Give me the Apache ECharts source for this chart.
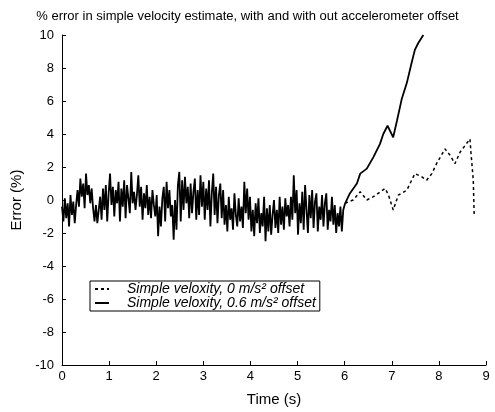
<!DOCTYPE html>
<html>
<head>
<meta charset="utf-8">
<script src="https://cdn.jsdelivr.net/npm/echarts@6/dist/echarts.min.js"></script>
<style>
  html, body { margin: 0; padding: 0; background: #fff; }
  #chart { width: 495px; height: 412px; }
</style>
</head>
<body>
<div id="chart"></div>
<script>
// sample spacing of the noisy part (s)
var dt = 0.03;

// % error, 0 .. 6 s (both estimates overlap here)
var noiseValues = [
  -0.4, -1.3, 0.1, -1.1, -0.2, -1.6, 0.3, -0.9, -0.1, -1.4, -0.3,
  0.6, -0.4, 1.3, 0.2, 1.0, -0.5, 1.6, 0.3, 0.9, -0.2, 0.7,
  -0.5, -1.3, -0.3, -1.4, -0.6,
  0.2, -1.2, 0.7, -0.6, 0.9, -1.3, 0.4, 1.6, -0.3, 0.8, -1.0, 0.6, -0.2,
  1.1, -1.3, 0.7, -0.4, 1.2, -1.1, 0.9, 0.1, -0.8, 1.7,
  -0.2, 0.5, -0.6, 0.3, 1.5, -0.4,
  0.8, -1.2, 0.4, -0.5, 0.9, -0.9, 0.2, -1.1, 0.6, -0.3,
  -1.0, 0.3, -2.2, -0.4, -1.6, 0.1,
  0.8, -1.3, 1.1, -0.5, 0.6, -1.0,
  -0.3, -2.4, 0.0, -1.8,
  0.9, 1.7, -1.3, 1.2, -0.6, 1.4, -0.2, 0.8, -1.1, 1.0, -0.8, 0.5, 1.3, -1.2, 0.6,
  -0.9, 1.5, -0.4, 1.1, -1.2, 0.7, -0.6,
  1.2, -1.6, 0.4, 1.6, -0.9, 0.8, -1.4, 0.3, 1.0, -1.1,
  0.6, -1.5, -0.3, -1.9, 0.2, -1.2, -0.5, -1.8, 0.4, -0.9, -1.6, 0.1, -1.3, -0.4, -1.7,
  1.1, -0.8, 0.7, -1.2,
  0.2, -1.9, -0.6, -2.2, -0.2, -1.4, 0.1, -2.0, -0.8, -1.6, 0.2, -2.5, -0.5, -1.9, -0.3, -2.1, -0.9, 0.0, -1.7, -0.6, -2.0,
  0.2, -1.5, -0.4, -1.8, 0.1, -1.0, -0.3, -1.6, 0.2, -1.2, 1.5, -0.8,
  0.6, -2.1, -0.2, -1.4, 0.5, -1.8, 0.9, -0.6, -2.0, 0.3, -1.1, 0.6, -1.7, -0.1,
  0.4, -1.9, -0.4, -1.2, 0.3, -1.6, -0.2, 0.4, -1.8, -0.6, -1.3, 0.2, -1.5,
  -0.3, -2.0, -0.8, -1.6, -0.4, -1.9, -0.6
];

// 0.6 m/s2 offset after 6 s
var offsetTimes  = [6.01, 6.11, 6.26, 6.33, 6.47, 6.61, 6.75, 6.82, 6.91, 7.03, 7.11, 7.21, 7.32, 7.42, 7.49, 7.56, 7.67];
var offsetValues = [-0.2, 0.4, 1.0, 1.6, 1.9, 2.6, 3.4, 4.0, 4.5, 3.8, 4.8, 6.1, 7.1, 8.3, 9.1, 9.5, 10.0];

// 0 m/s2 offset after 6 s
var zeroTimes  = [6.01, 6.18, 6.33, 6.47, 6.61, 6.86, 6.93, 7.03, 7.14, 7.32, 7.49, 7.64, 7.74, 7.85, 7.95, 8.13, 8.24, 8.34, 8.45, 8.66, 8.68, 8.73, 8.75];
var zeroValues = [-0.2, 0.0, 0.5, 0.0, 0.2, 0.7, 0.3, -0.6, 0.3, 0.6, 1.6, 1.4, 1.2, 1.6, 2.2, 3.1, 2.7, 2.2, 2.9, 3.7, 2.9, 1.2, -1.0];

var xTicks = [0, 1, 2, 3, 4, 5, 6, 7, 8, 9];
var yTicks = [-10, -8, -6, -4, -2, 0, 2, 4, 6, 8, 10];

var nameZero   = 'Simple veloxity, 0 m/s\u00b2 offset';
var nameOffset = 'Simple veloxity, 0.6 m/s\u00b2 offset';

var noisePairs = noiseValues.map(function (v, i) {
    return [+(i * dt).toFixed(2), v];
});
var offsetPairs = noisePairs.concat(offsetTimes.map(function (t, i) {
    return [t, offsetValues[i]];
}));
var zeroPairs = zeroTimes.map(function (t, i) {
    return [t, zeroValues[i]];
});

var font = 'Liberation Sans, Arial, sans-serif';

var chart = echarts.init(document.getElementById('chart'));

var option = {
    animation: false,
    backgroundColor: '#fff',
    title: {
        text: '% error in simple velocity estimate, with and with out accelerometer offset',
        left: 'center',
        top: 5,
        textStyle: { fontSize: 13, fontWeight: 'normal', color: '#000', fontFamily: font }
    },
    grid: { left: 62, right: 9, top: 35, bottom: 47 },
    legend: {
        left: 90,
        top: 281,
        orient: 'vertical',
        itemGap: 0,
        itemWidth: 14,
        itemHeight: 10,
        padding: [1, 4, 1, 4],
        borderColor: '#000',
        borderWidth: 1,
        borderRadius: 0,
        data: [nameZero, nameOffset],
        itemStyle: { color: 'rgba(0,0,0,0)', borderWidth: 0 },
        textStyle: {
            fontSize: 14, fontStyle: 'italic', color: '#000', fontFamily: font,
            lineHeight: 13, padding: [0, 0, 0, 13]
        }
    },
    xAxis: {
        type: 'value',
        min: xTicks[0],
        max: xTicks[xTicks.length - 1],
        interval: 1,
        name: 'Time (s)',
        nameLocation: 'middle',
        nameGap: 27,
        nameTextStyle: { fontSize: 15, color: '#000', fontFamily: font },
        axisLine: { onZero: false, lineStyle: { color: '#000', width: 1 } },
        axisTick: { inside: true, length: 4, lineStyle: { color: '#000' } },
        axisLabel: { fontSize: 13, color: '#000', fontFamily: font, margin: 5 },
        splitLine: { show: false }
    },
    yAxis: {
        type: 'value',
        min: yTicks[0],
        max: yTicks[yTicks.length - 1],
        interval: 2,
        name: 'Error (%)',
        nameLocation: 'middle',
        nameGap: 34,
        nameTextStyle: { fontSize: 15, color: '#000', fontFamily: font },
        axisLine: { show: true, onZero: false, lineStyle: { color: '#000', width: 1 } },
        axisTick: { show: true, inside: true, length: 4, lineStyle: { color: '#000' } },
        axisLabel: { fontSize: 13, color: '#000', fontFamily: font, margin: 8 },
        splitLine: { show: false }
    },
    series: [
        {
            name: nameZero,
            type: 'line',
            data: zeroPairs,
            showSymbol: false,
            symbol: 'none',
            lineStyle: { color: '#000', width: 1.5, type: [3, 3] },
            itemStyle: { color: '#000' }
        },
        {
            name: nameOffset,
            type: 'line',
            data: offsetPairs,
            showSymbol: false,
            symbol: 'none',
            lineStyle: { color: '#000', width: 1.8 },
            itemStyle: { color: '#000' }
        }
    ]
};

chart.setOption(option);
</script>
</body>
</html>
